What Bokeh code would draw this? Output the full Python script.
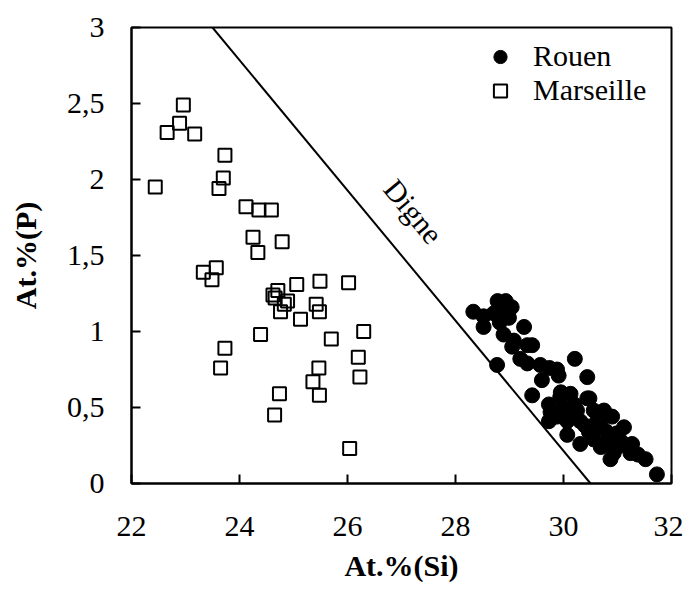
from bokeh.plotting import figure
from bokeh.models import Range1d, FixedTicker, Legend, LegendItem
from bokeh.core.properties import value
from bokeh.embed import file_html
from bokeh.resources import INLINE

# ---------------- data ----------------
MARSEILLE_SI = [22.96, 22.89, 22.66, 23.17, 23.73, 23.70, 23.62, 22.44, 24.12, 24.36,
                24.59, 24.25, 24.79, 24.34, 23.33, 23.57, 23.49, 25.06, 25.49, 26.02,
                24.62, 24.71, 24.66, 24.89, 24.83, 24.76, 25.13, 25.42, 25.48, 24.39,
                25.70, 26.30, 26.20, 26.23, 23.73, 23.65, 25.47, 25.36, 25.48, 24.74,
                24.65, 26.04]
MARSEILLE_P = [2.49, 2.37, 2.31, 2.30, 2.16, 2.01, 1.94, 1.95, 1.82, 1.80,
               1.80, 1.62, 1.59, 1.52, 1.39, 1.42, 1.34, 1.31, 1.33, 1.32,
               1.24, 1.27, 1.22, 1.20, 1.18, 1.13, 1.08, 1.18, 1.13, 0.98,
               0.95, 1.00, 0.83, 0.70, 0.89, 0.76, 0.76, 0.67, 0.58, 0.59,
               0.45, 0.23]

ROUEN_SI = [28.33, 28.52, 28.52, 28.78, 28.93, 29.04, 28.71, 28.86, 28.99, 28.82,
            29.27, 28.89, 29.05, 29.08, 29.33, 29.42, 29.20, 29.33, 29.57, 28.77,
            30.21, 29.88, 29.91, 30.44, 29.60, 29.42, 29.73, 30.13, 29.94, 30.44,
            29.76, 29.73, 29.88, 30.07, 30.25, 30.31, 30.56, 30.75, 30.90, 30.62,
            30.07, 30.31, 30.47, 30.56, 30.69, 30.81, 30.93, 31.12, 31.06, 31.27,
            31.24, 30.99, 31.52, 31.73, 30.87, 31.38, 30.69, 30.48, 29.74, 30.00,
            30.10, 30.40, 30.60, 30.80, 31.00, 30.20, 29.95]
ROUEN_P = [1.13, 1.10, 1.03, 1.20, 1.20, 1.16, 1.12, 1.12, 1.09, 1.06,
           1.03, 0.98, 0.90, 0.94, 0.91, 0.91, 0.82, 0.79, 0.78, 0.78,
           0.82, 0.75, 0.71, 0.70, 0.68, 0.58, 0.52, 0.59, 0.57, 0.56,
           0.47, 0.41, 0.44, 0.41, 0.48, 0.41, 0.48, 0.48, 0.44, 0.41,
           0.32, 0.26, 0.34, 0.29, 0.24, 0.28, 0.20, 0.37, 0.28, 0.26,
           0.20, 0.33, 0.16, 0.06, 0.16, 0.19, 0.41, 0.56, 0.76, 0.50,
           0.45, 0.38, 0.36, 0.34, 0.24, 0.52, 0.60]

DIGNE_SI = [23.5, 30.5]
DIGNE_P = [3.0, 0.0]
DIGNE_LABEL = "Digne"

X_TICKS = [22, 24, 26, 28, 30, 32]
Y_TICKS = [0, 0.5, 1, 1.5, 2, 2.5, 3]
Y_TICK_LABELS = ["0", "0,5", "1", "1,5", "2", "2,5", "3"]

X_LABEL = "At.%(Si)"
Y_LABEL = "At.%(P)"
SERIES = ["Rouen", "Marseille"]

FONT = "Liberation Serif"

# ---------------- figure ----------------
p = figure(width=683, height=592, output_backend="svg", toolbar_location=None,
           x_range=Range1d(22, 32), y_range=Range1d(0, 3),
           min_border_left=131, min_border_right=12, min_border_top=27, min_border_bottom=109)
p.background_fill_color = "white"
p.border_fill_color = "white"
p.grid.visible = False
p.outline_line_color = "black"
p.outline_line_width = 2

for ax in (p.xaxis[0], p.yaxis[0]):
    ax.axis_line_width = 2
    ax.major_tick_line_width = 2
    ax.major_tick_in = 9
    ax.major_tick_out = 0
    ax.minor_tick_line_color = None
    ax.major_label_text_font = FONT
    ax.major_label_text_font_size = "30px"
    ax.major_label_text_color = "black"
    ax.axis_label_text_font = FONT
    ax.axis_label_text_font_size = "30px"
    ax.axis_label_text_font_style = "bold"
    ax.axis_label_text_color = "black"

p.xaxis.ticker = FixedTicker(ticks=X_TICKS)
p.yaxis.ticker = FixedTicker(ticks=Y_TICKS)
p.yaxis.major_label_overrides = {t: l for t, l in zip(Y_TICKS, Y_TICK_LABELS)}
p.xaxis.axis_label = X_LABEL
p.yaxis.axis_label = Y_LABEL
p.xaxis.major_label_standoff = 33
p.xaxis.axis_label_standoff = 10
p.yaxis.major_label_standoff = 27
p.yaxis.axis_label_standoff = 22

# Digne line
p.line(DIGNE_SI, DIGNE_P, line_color="black", line_width=2)
slope_angle = -0.8775  # text runs along the Digne line
p.text(x=[27.22], y=[1.79], text=[DIGNE_LABEL], angle=slope_angle,
       text_font=value(FONT), text_font_size="30px", text_color="black",
       text_align="center", text_baseline="middle")

# data
r_rouen = p.scatter(ROUEN_SI, ROUEN_P, marker="circle", size=15,
                    fill_color="black", line_color="black", line_width=1)
r_mars = p.scatter(MARSEILLE_SI, MARSEILLE_P, marker="square", size=13,
                   fill_color=None, line_color="black", line_width=2)

legend = Legend(items=[LegendItem(label=SERIES[0], renderers=[r_rouen]),
                       LegendItem(label=SERIES[1], renderers=[r_mars])],
                location=(350, 376), orientation="vertical",
                border_line_color=None, background_fill_alpha=0,
                padding=0, margin=0, spacing=0,
                glyph_width=38, glyph_height=33, label_height=33,
                label_standoff=14,
                label_text_font=FONT, label_text_font_size="30px",
                label_text_color="black")
p.add_layout(legend, "center")

open("out.html", "w").write(file_html(p, INLINE))
